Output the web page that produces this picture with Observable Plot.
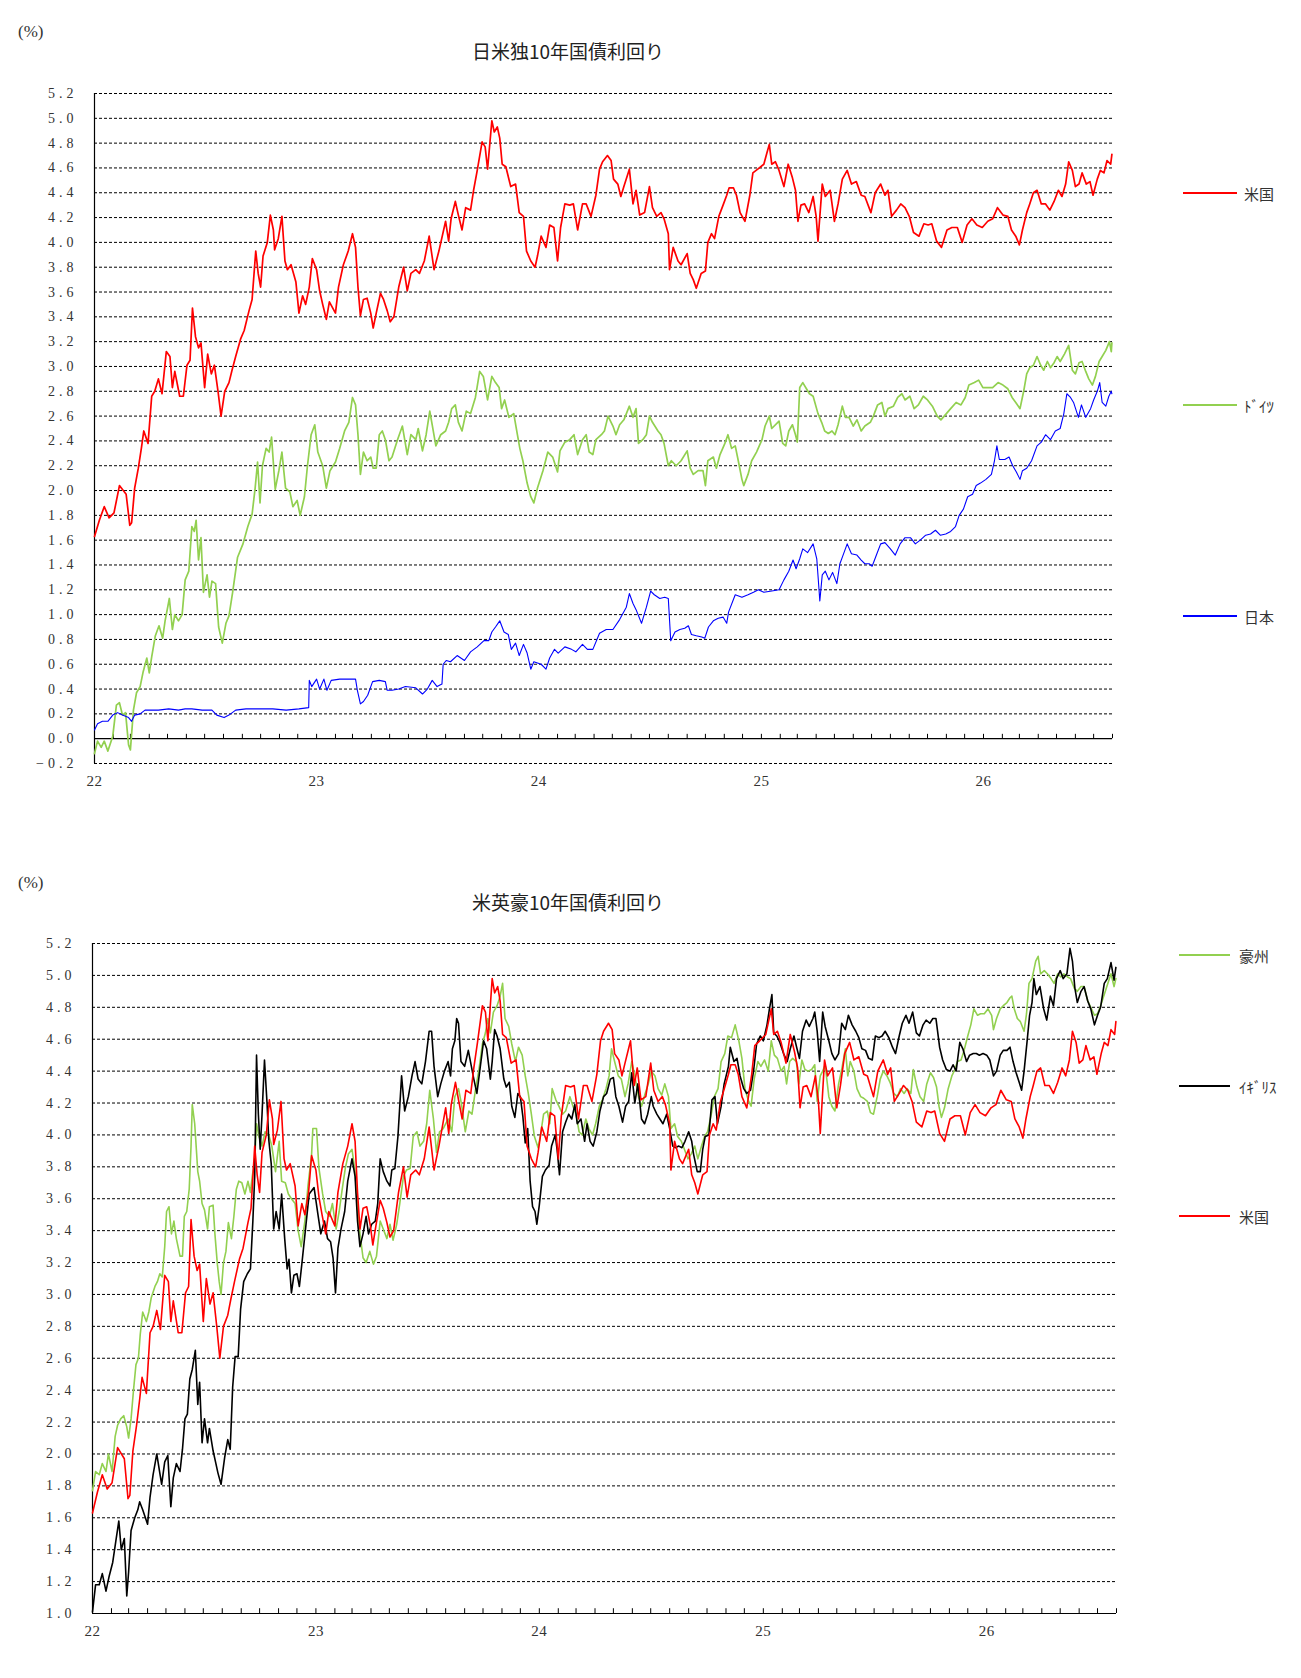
<!DOCTYPE html>
<html><head><meta charset="utf-8">
<script src="https://cdn.jsdelivr.net/npm/d3@7"></script>
<script src="https://cdn.jsdelivr.net/npm/@observablehq/plot@0.6"></script>
<style>
body{margin:0;background:#fff;}
#page{position:relative;width:1301px;height:1678px;background:#fff;font-family:"Noto Sans CJK JP",sans-serif;color:#333;overflow:hidden;}
.chart{position:absolute;left:0;}
.title{position:absolute;font-size:19px;transform:translate(-50%,-50%);white-space:nowrap;color:#222;}
.unit{position:absolute;font-family:"Liberation Serif",serif;font-size:17px;color:#333;line-height:20px;}
.legline{position:absolute;height:2px;}
.legtext{position:absolute;font-size:15px;transform:translateY(-50%);white-space:nowrap;color:#333;}
.chart g[aria-label="y-axis tick label"] text{letter-spacing:4px;font-size:14px;}
.chart g[aria-label="x-axis tick label"] text{letter-spacing:0.5px;font-size:15px;}
</style></head><body><div id="page"></div>
<script>
// ---------------- data ----------------
const usYield = [
["2022-01-01",1.63],["2022-01-09",1.76],["2022-01-17",1.87],["2022-01-25",1.78],["2022-02-02",1.82],["2022-02-11",2.04],["2022-02-22",1.97],["2022-02-28",1.72],["2022-03-03",1.74],["2022-03-08",2.02],["2022-03-14",2.18],["2022-03-19",2.34],["2022-03-23",2.48],["2022-03-30",2.38],["2022-04-05",2.76],["2022-04-10",2.80],["2022-04-16",2.90],["2022-04-22",2.78],["2022-04-29",3.12],["2022-05-05",3.08],["2022-05-09",2.83],["2022-05-13",2.96],["2022-05-21",2.76],["2022-05-27",2.76],["2022-06-02",3.01],["2022-06-07",3.05],["2022-06-11",3.47],["2022-06-16",3.24],["2022-06-21",3.15],["2022-06-25",3.19],["2022-07-01",2.83],["2022-07-06",3.10],["2022-07-12",2.94],["2022-07-17",3.01],["2022-07-23",2.80],["2022-07-28",2.60],["2022-08-03",2.80],["2022-08-10",2.87],["2022-08-15",2.97],["2022-08-21",3.08],["2022-08-29",3.22],["2022-09-04",3.29],["2022-09-12",3.45],["2022-09-17",3.54],["2022-09-23",3.93],["2022-09-27",3.75],["2022-10-01",3.64],["2022-10-05",3.89],["2022-10-12",4.00],["2022-10-17",4.22],["2022-10-22",4.10],["2022-10-24",3.94],["2022-10-30",4.03],["2022-11-05",4.21],["2022-11-10",3.85],["2022-11-14",3.78],["2022-11-20",3.82],["2022-11-28",3.68],["2022-12-03",3.43],["2022-12-09",3.57],["2022-12-14",3.50],["2022-12-20",3.64],["2022-12-25",3.87],
["2023-01-01",3.78],["2023-01-06",3.61],["2023-01-11",3.50],["2023-01-17",3.38],["2023-01-22",3.52],["2023-02-01",3.43],["2023-02-06",3.64],["2023-02-14",3.82],["2023-02-22",3.93],["2023-03-01",4.07],["2023-03-06",3.96],["2023-03-10",3.64],["2023-03-14",3.41],["2023-03-19",3.54],["2023-03-25",3.55],["2023-03-31",3.43],["2023-04-04",3.31],["2023-04-09",3.43],["2023-04-16",3.59],["2023-04-21",3.54],["2023-04-27",3.45],["2023-05-02",3.36],["2023-05-08",3.40],["2023-05-16",3.64],["2023-05-24",3.80],["2023-05-30",3.61],["2023-06-05",3.75],["2023-06-13",3.78],["2023-06-19",3.75],["2023-06-27",3.85],["2023-07-05",4.05],["2023-07-13",3.78],["2023-07-21",3.93],["2023-08-01",4.17],["2023-08-06",4.01],["2023-08-10",4.19],["2023-08-17",4.33],["2023-08-22",4.22],["2023-08-28",4.10],["2023-09-03",4.28],["2023-09-11",4.26],["2023-09-16",4.42],["2023-09-22",4.58],["2023-09-30",4.81],["2023-10-05",4.77],["2023-10-09",4.59],["2023-10-16",4.98],["2023-10-20",4.89],["2023-10-25",4.93],["2023-10-29",4.84],["2023-11-02",4.63],["2023-11-08",4.61],["2023-11-16",4.45],["2023-11-24",4.47],["2023-11-30",4.24],["2023-12-07",4.21],["2023-12-12",3.93],["2023-12-19",3.85],["2023-12-26",3.80],["2023-12-30",3.89],
["2024-01-05",4.05],["2024-01-13",3.96],["2024-01-19",4.14],["2024-01-26",4.12],["2024-02-01",3.85],["2024-02-06",4.12],["2024-02-13",4.31],["2024-02-21",4.30],["2024-02-27",4.31],["2024-03-05",4.10],["2024-03-13",4.31],["2024-03-19",4.31],["2024-03-27",4.21],["2024-04-04",4.38],["2024-04-10",4.59],["2024-04-15",4.65],["2024-04-23",4.70],["2024-04-29",4.66],["2024-05-03",4.51],["2024-05-10",4.47],["2024-05-15",4.37],["2024-05-20",4.45],["2024-05-29",4.59],["2024-06-04",4.31],["2024-06-09",4.42],["2024-06-15",4.22],["2024-06-23",4.24],["2024-07-01",4.45],["2024-07-06",4.28],["2024-07-13",4.21],["2024-07-20",4.24],["2024-07-25",4.19],["2024-08-01",4.07],["2024-08-03",3.78],["2024-08-09",3.96],["2024-08-17",3.85],["2024-08-22",3.82],["2024-09-01",3.91],["2024-09-06",3.75],["2024-09-11",3.70],["2024-09-16",3.63],["2024-09-24",3.75],["2024-10-01",3.77],["2024-10-05",4.00],["2024-10-11",4.07],["2024-10-16",4.03],["2024-10-23",4.21],["2024-10-30",4.30],["2024-11-05",4.38],["2024-11-09",4.44],["2024-11-16",4.44],["2024-11-21",4.38],["2024-11-27",4.24],["2024-12-05",4.17],["2024-12-13",4.38],["2024-12-18",4.56],["2024-12-26",4.59],
["2025-01-05",4.63],["2025-01-10",4.72],["2025-01-14",4.79],["2025-01-18",4.63],["2025-01-24",4.65],["2025-01-30",4.58],["2025-02-07",4.45],["2025-02-14",4.63],["2025-02-21",4.52],["2025-02-26",4.42],["2025-03-02",4.17],["2025-03-07",4.30],["2025-03-13",4.31],["2025-03-20",4.24],["2025-03-27",4.37],["2025-04-01",4.21],["2025-04-04",4.01],["2025-04-11",4.47],["2025-04-16",4.37],["2025-04-24",4.42],["2025-05-01",4.17],["2025-05-07",4.31],["2025-05-14",4.51],["2025-05-22",4.58],["2025-05-29",4.47],["2025-06-06",4.49],["2025-06-14",4.38],["2025-06-20",4.37],["2025-06-30",4.24],["2025-07-07",4.40],["2025-07-16",4.47],["2025-07-23",4.38],["2025-07-28",4.42],["2025-08-03",4.21],["2025-08-11",4.26],["2025-08-18",4.31],["2025-08-25",4.28],["2025-09-01",4.21],["2025-09-08",4.08],["2025-09-17",4.05],["2025-09-25",4.15],["2025-10-02",4.14],["2025-10-08",4.15],["2025-10-16",4.01],["2025-10-24",3.96],["2025-11-02",4.10],["2025-11-10",4.12],["2025-11-19",4.12],["2025-11-27",4.00],["2025-12-05",4.14],["2025-12-13",4.19],["2025-12-21",4.14],["2025-12-30",4.12],
["2026-01-08",4.17],["2026-01-16",4.19],["2026-01-24",4.28],["2026-02-02",4.22],["2026-02-10",4.21],["2026-02-16",4.10],["2026-02-23",4.05],["2026-03-01",3.98],["2026-03-06",4.10],["2026-03-13",4.24],["2026-03-18",4.31],["2026-03-24",4.40],["2026-03-30",4.42],["2026-04-06",4.31],["2026-04-13",4.31],["2026-04-20",4.26],["2026-04-27",4.33],["2026-05-04",4.42],["2026-05-10",4.37],["2026-05-16",4.47],["2026-05-21",4.65],["2026-05-27",4.58],["2026-06-01",4.45],["2026-06-07",4.47],["2026-06-12",4.56],["2026-06-19",4.47],["2026-06-25",4.49],["2026-06-30",4.38],["2026-07-07",4.51],["2026-07-12",4.58],["2026-07-18",4.56],["2026-07-23",4.66],["2026-07-29",4.63],["2026-07-31",4.71]
];

const deYield = [
["2022-01-01",-0.12],["2022-01-06",-0.02],["2022-01-12",-0.07],["2022-01-17",-0.02],["2022-01-23",-0.10],["2022-01-31",0.02],["2022-02-06",0.27],["2022-02-11",0.29],["2022-02-16",0.19],["2022-02-21",0.21],["2022-02-26",-0.05],["2022-03-01",-0.09],["2022-03-06",0.23],["2022-03-11",0.37],["2022-03-17",0.42],["2022-03-22",0.54],["2022-03-28",0.65],["2022-04-01",0.53],["2022-04-05",0.66],["2022-04-11",0.83],["2022-04-17",0.91],["2022-04-23",0.81],["2022-04-27",0.95],["2022-05-04",1.13],["2022-05-09",0.88],["2022-05-13",1.00],["2022-05-19",0.95],["2022-05-25",1.00],["2022-05-30",1.28],["2022-06-05",1.35],["2022-06-10",1.71],["2022-06-14",1.67],["2022-06-17",1.76],["2022-06-21",1.44],["2022-06-25",1.62],["2022-06-29",1.18],["2022-07-05",1.32],["2022-07-09",1.14],["2022-07-13",1.27],["2022-07-19",1.25],["2022-07-24",0.90],["2022-07-30",0.77],["2022-08-05",0.93],["2022-08-10",0.99],["2022-08-16",1.18],["2022-08-24",1.46],["2022-09-02",1.57],["2022-09-10",1.71],["2022-09-17",1.81],["2022-09-22",2.02],["2022-09-26",2.23],["2022-09-30",1.90],["2022-10-04",2.20],["2022-10-10",2.34],["2022-10-15",2.31],["2022-10-19",2.43],["2022-10-25",2.01],["2022-10-31",2.16],["2022-11-05",2.31],["2022-11-11",2.02],["2022-11-18",1.99],["2022-11-23",1.87],["2022-11-30",1.92],["2022-12-05",1.80],["2022-12-12",1.95],["2022-12-17",2.20],["2022-12-23",2.45],["2022-12-29",2.53],
["2023-01-03",2.31],["2023-01-11",2.20],["2023-01-17",2.02],["2023-01-23",2.16],["2023-02-01",2.23],["2023-02-08",2.34],["2023-02-16",2.48],["2023-02-23",2.55],["2023-03-01",2.75],["2023-03-06",2.69],["2023-03-10",2.45],["2023-03-14",2.13],["2023-03-19",2.31],["2023-03-25",2.24],["2023-03-31",2.27],["2023-04-04",2.18],["2023-04-09",2.18],["2023-04-14",2.45],["2023-04-19",2.48],["2023-04-24",2.41],["2023-04-30",2.24],["2023-05-05",2.27],["2023-05-14",2.41],["2023-05-22",2.52],["2023-05-30",2.29],["2023-06-05",2.45],["2023-06-13",2.41],["2023-06-17",2.50],["2023-06-24",2.32],["2023-06-30",2.45],["2023-07-06",2.64],["2023-07-10",2.53],["2023-07-16",2.36],["2023-07-24",2.45],["2023-08-01",2.48],["2023-08-06",2.55],["2023-08-11",2.66],["2023-08-17",2.69],["2023-08-22",2.55],["2023-08-28",2.48],["2023-09-04",2.64],["2023-09-11",2.62],["2023-09-19",2.75],["2023-09-26",2.96],["2023-10-02",2.92],["2023-10-09",2.73],["2023-10-16",2.92],["2023-10-22",2.87],["2023-10-28",2.83],["2023-11-01",2.66],["2023-11-06",2.73],["2023-11-13",2.59],["2023-11-21",2.62],["2023-11-27",2.45],["2023-12-01",2.34],["2023-12-06",2.24],["2023-12-13",2.06],["2023-12-19",1.95],["2023-12-24",1.90],["2023-12-30",2.02],
["2024-01-08",2.16],["2024-01-16",2.31],["2024-01-24",2.27],["2024-02-01",2.15],["2024-02-05",2.32],["2024-02-13",2.39],["2024-02-21",2.41],["2024-02-28",2.45],["2024-03-05",2.29],["2024-03-13",2.41],["2024-03-19",2.45],["2024-03-24",2.31],["2024-03-30",2.29],["2024-04-04",2.41],["2024-04-13",2.45],["2024-04-18",2.48],["2024-04-24",2.60],["2024-05-02",2.52],["2024-05-07",2.45],["2024-05-13",2.53],["2024-05-20",2.57],["2024-05-29",2.68],["2024-06-04",2.59],["2024-06-09",2.66],["2024-06-13",2.38],["2024-06-20",2.41],["2024-06-26",2.45],["2024-07-01",2.60],["2024-07-06",2.55],["2024-07-15",2.48],["2024-07-20",2.45],["2024-07-25",2.38],["2024-08-01",2.20],["2024-08-06",2.24],["2024-08-14",2.20],["2024-08-22",2.24],["2024-09-01",2.32],["2024-09-06",2.18],["2024-09-11",2.13],["2024-09-19",2.16],["2024-09-27",2.16],["2024-10-01",2.04],["2024-10-05",2.24],["2024-10-14",2.27],["2024-10-19",2.18],["2024-10-25",2.29],["2024-11-02",2.38],["2024-11-07",2.45],["2024-11-13",2.34],["2024-11-19",2.36],["2024-11-24",2.24],["2024-11-30",2.09],["2024-12-03",2.04],["2024-12-10",2.13],["2024-12-16",2.24],["2024-12-24",2.31],
["2025-01-02",2.41],["2025-01-07",2.52],["2025-01-14",2.60],["2025-01-18",2.50],["2025-01-30",2.56],["2025-02-05",2.38],["2025-02-10",2.36],["2025-02-15",2.48],["2025-02-21",2.53],["2025-02-26",2.45],["2025-03-01",2.39],["2025-03-05",2.83],["2025-03-10",2.87],["2025-03-16",2.82],["2025-03-21",2.78],["2025-03-27",2.76],["2025-04-04",2.62],["2025-04-10",2.55],["2025-04-15",2.48],["2025-04-21",2.46],["2025-04-27",2.48],["2025-05-02",2.45],["2025-05-07",2.53],["2025-05-14",2.68],["2025-05-19",2.59],["2025-05-25",2.59],["2025-06-01",2.52],["2025-06-07",2.57],["2025-06-14",2.48],["2025-06-20",2.52],["2025-06-29",2.55],["2025-07-04",2.60],["2025-07-11",2.69],["2025-07-18",2.71],["2025-07-23",2.60],["2025-07-28",2.66],["2025-08-06",2.68],["2025-08-13",2.75],["2025-08-20",2.78],["2025-08-25",2.73],["2025-09-02",2.76],["2025-09-09",2.66],["2025-09-16",2.69],["2025-09-24",2.76],["2025-10-01",2.73],["2025-10-09",2.68],["2025-10-17",2.60],["2025-10-23",2.57],["2025-11-01",2.62],["2025-11-08",2.66],["2025-11-17",2.71],["2025-11-25",2.69],["2025-12-02",2.75],["2025-12-08",2.85],["2025-12-17",2.87],["2025-12-24",2.89],["2025-12-31",2.83],
["2026-01-08",2.83],["2026-01-16",2.83],["2026-01-25",2.87],["2026-02-02",2.85],["2026-02-10",2.82],["2026-02-17",2.75],["2026-02-23",2.71],["2026-03-02",2.66],["2026-03-08",2.80],["2026-03-13",2.94],["2026-03-18",2.99],["2026-03-24",3.01],["2026-03-30",3.08],["2026-04-05",3.01],["2026-04-10",2.97],["2026-04-16",3.04],["2026-04-21",2.99],["2026-04-27",3.03],["2026-05-02",3.08],["2026-05-07",3.04],["2026-05-14",3.10],["2026-05-21",3.17],["2026-05-27",2.97],["2026-06-01",2.94],["2026-06-07",3.03],["2026-06-12",3.04],["2026-06-18",2.96],["2026-06-23",2.90],["2026-06-29",2.85],["2026-07-04",2.92],["2026-07-10",3.04],["2026-07-15",3.08],["2026-07-21",3.13],["2026-07-27",3.20],["2026-07-30",3.12],["2026-07-31",3.19]
];

const jpYield = [
["2022-01-01",0.07],["2022-01-06",0.12],["2022-01-14",0.14],["2022-01-23",0.14],["2022-01-31",0.19],["2022-02-08",0.21],["2022-02-16",0.19],["2022-02-26",0.17],["2022-03-03",0.14],["2022-03-08",0.19],["2022-03-17",0.20],["2022-03-25",0.23],["2022-04-05",0.23],["2022-04-16",0.23],["2022-05-03",0.24],["2022-05-19",0.23],["2022-05-30",0.24],["2022-06-10",0.24],["2022-06-27",0.23],["2022-07-13",0.23],["2022-07-21",0.19],["2022-08-02",0.17],["2022-08-10",0.19],["2022-08-21",0.23],["2022-09-07",0.24],["2022-09-29",0.24],["2022-10-21",0.24],["2022-11-12",0.23],["2022-12-03",0.24],["2022-12-19",0.25],["2022-12-20",0.47],["2022-12-24",0.42],
["2023-01-01",0.48],["2023-01-06",0.40],["2023-01-13",0.48],["2023-01-18",0.39],["2023-01-25",0.47],["2023-02-08",0.48],["2023-03-06",0.48],["2023-03-09",0.39],["2023-03-14",0.28],["2023-03-19",0.30],["2023-03-26",0.35],["2023-04-03",0.46],["2023-04-14",0.47],["2023-04-24",0.46],["2023-04-27",0.39],["2023-05-05",0.39],["2023-05-16",0.40],["2023-05-27",0.42],["2023-06-13",0.41],["2023-06-24",0.36],["2023-07-02",0.40],["2023-07-10",0.47],["2023-07-18",0.42],["2023-07-26",0.44],["2023-07-28",0.60],["2023-08-02",0.63],["2023-08-09",0.62],["2023-08-20",0.67],["2023-09-01",0.63],["2023-09-11",0.70],["2023-09-22",0.74],["2023-10-03",0.79],["2023-10-11",0.79],["2023-10-16",0.86],["2023-10-22",0.90],["2023-10-29",0.95],["2023-11-05",0.86],["2023-11-12",0.84],["2023-11-17",0.72],["2023-11-24",0.77],["2023-11-30",0.67],["2023-12-07",0.76],["2023-12-13",0.69],["2023-12-19",0.56],["2023-12-24",0.62],
["2024-01-05",0.60],["2024-01-13",0.56],["2024-01-19",0.65],["2024-01-27",0.72],["2024-02-02",0.69],["2024-02-13",0.74],["2024-02-24",0.72],["2024-03-02",0.70],["2024-03-13",0.76],["2024-03-21",0.72],["2024-03-30",0.72],["2024-04-10",0.85],["2024-04-21",0.88],["2024-05-02",0.88],["2024-05-13",0.96],["2024-05-24",1.06],["2024-05-29",1.17],["2024-06-04",1.09],["2024-06-09",1.04],["2024-06-18",0.93],["2024-06-26",1.06],["2024-07-03",1.19],["2024-07-09",1.16],["2024-07-18",1.13],["2024-07-26",1.14],["2024-08-01",1.13],["2024-08-05",0.79],["2024-08-12",0.86],["2024-08-20",0.88],["2024-08-28",0.89],["2024-09-03",0.91],["2024-09-08",0.84],["2024-09-16",0.83],["2024-09-25",0.82],["2024-09-30",0.81],["2024-10-06",0.90],["2024-10-14",0.95],["2024-10-22",0.97],["2024-10-30",0.98],["2024-11-05",0.93],["2024-11-08",1.02],["2024-11-19",1.16],["2024-11-30",1.14],["2024-12-10",1.16],["2024-12-19",1.18],["2024-12-27",1.20],
["2025-01-05",1.18],["2025-01-18",1.19],["2025-01-30",1.20],["2025-02-07",1.28],["2025-02-15",1.35],["2025-02-22",1.44],["2025-02-27",1.37],["2025-03-05",1.45],["2025-03-10",1.53],["2025-03-18",1.50],["2025-03-27",1.57],["2025-04-02",1.45],["2025-04-06",1.18],["2025-04-07",1.11],["2025-04-11",1.32],["2025-04-16",1.35],["2025-04-22",1.28],["2025-04-28",1.34],["2025-05-05",1.25],["2025-05-10",1.41],["2025-05-16",1.49],["2025-05-22",1.57],["2025-05-29",1.49],["2025-06-07",1.48],["2025-06-14",1.44],["2025-06-20",1.41],["2025-06-27",1.41],["2025-07-02",1.39],["2025-07-09",1.48],["2025-07-16",1.57],["2025-07-23",1.58],["2025-08-01",1.53],["2025-08-09",1.48],["2025-08-17",1.57],["2025-08-25",1.62],["2025-09-03",1.62],["2025-09-11",1.57],["2025-09-19",1.60],["2025-09-28",1.64],["2025-10-06",1.65],["2025-10-14",1.68],["2025-10-22",1.64],["2025-10-31",1.65],["2025-11-08",1.67],["2025-11-16",1.71],["2025-11-22",1.80],["2025-11-29",1.85],["2025-12-06",1.95],["2025-12-14",1.97],["2025-12-20",2.04],["2025-12-27",2.06],
["2026-01-05",2.09],["2026-01-14",2.13],["2026-01-19",2.24],["2026-01-23",2.36],["2026-01-27",2.25],["2026-02-05",2.25],["2026-02-12",2.27],["2026-02-18",2.20],["2026-02-24",2.15],["2026-03-02",2.09],["2026-03-06",2.16],["2026-03-13",2.18],["2026-03-21",2.24],["2026-03-30",2.36],["2026-04-06",2.39],["2026-04-13",2.45],["2026-04-21",2.41],["2026-04-29",2.48],["2026-05-07",2.50],["2026-05-13",2.62],["2026-05-18",2.78],["2026-05-24",2.75],["2026-05-29",2.71],["2026-06-06",2.59],["2026-06-11",2.69],["2026-06-18",2.59],["2026-06-26",2.66],["2026-07-01",2.73],["2026-07-07",2.80],["2026-07-11",2.87],["2026-07-15",2.71],["2026-07-21",2.68],["2026-07-26",2.76],["2026-07-30",2.80],["2026-07-31",2.78]
];

const ukYield = [
["2022-01-01",1.01],["2022-01-06",1.18],["2022-01-12",1.18],["2022-01-17",1.25],["2022-01-23",1.14],["2022-01-28",1.23],["2022-02-03",1.32],["2022-02-08",1.45],["2022-02-13",1.58],["2022-02-17",1.40],["2022-02-22",1.47],["2022-02-26",1.11],["2022-03-01",1.26],["2022-03-05",1.52],["2022-03-11",1.60],["2022-03-16",1.65],["2022-03-19",1.70],["2022-03-24",1.65],["2022-04-01",1.56],["2022-04-05",1.73],["2022-04-10",1.87],["2022-04-16",2.00],["2022-04-21",1.88],["2022-04-24",1.81],["2022-04-29",1.95],["2022-05-04",1.99],["2022-05-09",1.67],["2022-05-13",1.85],["2022-05-18",1.94],["2022-05-24",1.89],["2022-05-28",2.03],["2022-06-01",2.22],["2022-06-05",2.25],["2022-06-09",2.47],["2022-06-13",2.53],["2022-06-18",2.65],["2022-06-22",2.31],["2022-06-25",2.45],["2022-06-29",2.07],["2022-07-03",2.22],["2022-07-08",2.07],["2022-07-11",2.16],["2022-07-17",2.02],["2022-07-21",1.95],["2022-07-25",1.88],["2022-07-30",1.81],["2022-08-05",1.98],["2022-08-10",2.09],["2022-08-14",2.03],["2022-08-18",2.42],["2022-08-22",2.61],["2022-08-27",2.61],["2022-08-31",2.91],["2022-09-05",3.08],["2022-09-11",3.13],["2022-09-16",3.16],["2022-09-20",3.46],["2022-09-23",3.74],["2022-09-26",4.50],["2022-09-29",4.13],["2022-10-02",3.91],["2022-10-05",4.13],["2022-10-09",4.47],["2022-10-13",4.21],["2022-10-16",3.97],["2022-10-20",3.82],["2022-10-24",3.41],["2022-10-28",3.52],["2022-11-02",3.41],["2022-11-06",3.63],["2022-11-11",3.35],["2022-11-15",3.16],["2022-11-18",3.22],["2022-11-22",3.01],["2022-11-26",3.12],["2022-12-01",3.13],["2022-12-05",3.05],["2022-12-09",3.19],["2022-12-15",3.41],["2022-12-21",3.63],["2022-12-29",3.67],
["2023-01-04",3.51],["2023-01-09",3.38],["2023-01-15",3.46],["2023-01-20",3.35],["2023-01-25",3.33],["2023-01-29",3.23],["2023-02-02",3.01],["2023-02-06",3.29],["2023-02-11",3.41],["2023-02-17",3.52],["2023-02-22",3.71],["2023-03-01",3.85],["2023-03-06",3.74],["2023-03-10",3.46],["2023-03-14",3.30],["2023-03-19",3.38],["2023-03-24",3.49],["2023-03-28",3.38],["2023-04-02",3.44],["2023-04-08",3.46],["2023-04-12",3.57],["2023-04-16",3.85],["2023-04-21",3.77],["2023-04-27",3.71],["2023-05-02",3.68],["2023-05-05",3.78],["2023-05-10",3.79],["2023-05-15",3.99],["2023-05-21",4.37],["2023-05-26",4.15],["2023-06-01",4.24],["2023-06-07",4.37],["2023-06-12",4.46],["2023-06-17",4.35],["2023-06-23",4.32],["2023-06-29",4.46],["2023-07-05",4.65],["2023-07-09",4.65],["2023-07-13",4.43],["2023-07-19",4.24],["2023-07-24",4.32],["2023-07-30",4.40],["2023-08-05",4.46],["2023-08-09",4.37],["2023-08-12",4.54],["2023-08-16",4.59],["2023-08-19",4.73],["2023-08-22",4.70],["2023-08-26",4.46],["2023-09-01",4.43],["2023-09-07",4.53],["2023-09-12",4.43],["2023-09-16",4.35],["2023-09-21",4.26],["2023-09-27",4.44],["2023-10-02",4.59],["2023-10-07",4.54],["2023-10-13",4.35],["2023-10-16",4.46],["2023-10-20",4.66],["2023-10-24",4.62],["2023-10-29",4.54],["2023-11-04",4.35],["2023-11-08",4.30],["2023-11-13",4.33],["2023-11-17",4.18],["2023-11-22",4.11],["2023-11-27",4.26],["2023-12-01",4.24],["2023-12-05",4.12],["2023-12-09",3.95],["2023-12-13",4.04],["2023-12-17",3.71],["2023-12-21",3.55],["2023-12-25",3.52],["2023-12-28",3.44],
["2024-01-01",3.56],["2024-01-06",3.74],["2024-01-11",3.78],["2024-01-17",3.81],["2024-01-21",3.93],["2024-01-27",4.00],["2024-01-30",3.91],["2024-02-03",3.75],["2024-02-08",4.02],["2024-02-13",4.08],["2024-02-18",4.13],["2024-02-23",4.10],["2024-02-28",4.19],["2024-03-03",4.07],["2024-03-09",4.10],["2024-03-15",3.96],["2024-03-19",4.07],["2024-03-24",3.96],["2024-03-29",3.93],["2024-04-04",4.02],["2024-04-09",4.15],["2024-04-15",4.24],["2024-04-20",4.26],["2024-04-26",4.35],["2024-05-01",4.36],["2024-05-05",4.24],["2024-05-10",4.18],["2024-05-16",4.08],["2024-05-21",4.18],["2024-05-26",4.21],["2024-05-31",4.39],["2024-06-05",4.20],["2024-06-10",4.32],["2024-06-16",4.10],["2024-06-21",4.07],["2024-06-26",4.13],["2024-07-02",4.24],["2024-07-05",4.18],["2024-07-11",4.13],["2024-07-16",4.10],["2024-07-21",4.07],["2024-07-27",4.13],["2024-08-01",4.04],["2024-08-06",3.93],["2024-08-10",3.92],["2024-08-16",3.93],["2024-08-21",3.92],["2024-08-26",3.96],["2024-09-01",4.02],["2024-09-06",3.96],["2024-09-09",3.88],["2024-09-15",3.77],["2024-09-20",3.77],["2024-09-24",3.91],["2024-09-28",3.99],["2024-10-04",4.00],["2024-10-09",4.22],["2024-10-14",4.24],["2024-10-18",4.07],["2024-10-24",4.18],["2024-10-29",4.32],["2024-11-05",4.43],["2024-11-08",4.55],["2024-11-14",4.46],["2024-11-19",4.48],["2024-11-24",4.37],["2024-11-30",4.29],["2024-12-05",4.26],["2024-12-11",4.28],["2024-12-16",4.40],["2024-12-21",4.57],["2024-12-27",4.62],
["2025-01-01",4.59],["2025-01-07",4.69],["2025-01-11",4.79],["2025-01-15",4.88],["2025-01-18",4.64],["2025-01-23",4.62],["2025-01-28",4.58],["2025-02-03",4.51],["2025-02-09",4.46],["2025-02-14",4.54],["2025-02-20",4.62],["2025-02-25",4.54],["2025-03-01",4.48],["2025-03-06",4.65],["2025-03-12",4.72],["2025-03-17",4.68],["2025-03-23",4.73],["2025-03-26",4.77],["2025-03-30",4.65],["2025-04-03",4.46],["2025-04-08",4.77],["2025-04-12",4.68],["2025-04-18",4.59],["2025-04-23",4.51],["2025-04-28",4.47],["2025-05-04",4.51],["2025-05-09",4.70],["2025-05-15",4.66],["2025-05-20",4.75],["2025-05-26",4.69],["2025-06-01",4.65],["2025-06-06",4.61],["2025-06-11",4.54],["2025-06-17",4.53],["2025-06-22",4.48],["2025-06-28",4.47],["2025-07-03",4.62],["2025-07-09",4.61],["2025-07-14",4.62],["2025-07-19",4.65],["2025-07-25",4.61],["2025-07-31",4.55],["2025-08-05",4.51],["2025-08-11",4.62],["2025-08-16",4.70],["2025-08-22",4.75],["2025-08-27",4.70],["2025-09-02",4.77],["2025-09-08",4.64],["2025-09-13",4.62],["2025-09-19",4.69],["2025-09-24",4.72],["2025-09-30",4.70],["2025-10-05",4.73],["2025-10-10",4.73],["2025-10-16",4.55],["2025-10-21",4.47],["2025-10-27",4.41],["2025-11-02",4.40],["2025-11-07",4.44],["2025-11-12",4.40],["2025-11-18",4.58],["2025-11-23",4.54],["2025-11-29",4.46],["2025-12-04",4.50],["2025-12-10",4.51],["2025-12-15",4.51],["2025-12-20",4.50],["2025-12-26",4.51],
["2026-01-01",4.50],["2026-01-06",4.47],["2026-01-12",4.37],["2026-01-17",4.40],["2026-01-23",4.50],["2026-01-28",4.53],["2026-02-03",4.53],["2026-02-08",4.55],["2026-02-13",4.46],["2026-02-18",4.39],["2026-02-23",4.33],["2026-02-27",4.28],["2026-03-03",4.40],["2026-03-08",4.59],["2026-03-12",4.75],["2026-03-16",4.83],["2026-03-19",4.98],["2026-03-23",4.88],["2026-03-29",4.93],["2026-04-04",4.79],["2026-04-09",4.72],["2026-04-15",4.87],["2026-04-20",4.81],["2026-04-25",4.98],["2026-05-01",5.03],["2026-05-06",4.98],["2026-05-12",5.01],["2026-05-17",5.17],["2026-05-21",5.09],["2026-05-25",4.92],["2026-05-29",4.83],["2026-06-04",4.90],["2026-06-09",4.93],["2026-06-15",4.84],["2026-06-20",4.79],["2026-06-26",4.69],["2026-07-01",4.75],["2026-07-06",4.80],["2026-07-12",4.95],["2026-07-17",4.98],["2026-07-23",5.08],["2026-07-28",4.97],["2026-07-31",5.05]
];

const auYield = [
["2022-01-01",1.77],["2022-01-06",1.89],["2022-01-12",1.87],["2022-01-17",1.94],["2022-01-23",1.89],["2022-01-27",2.00],["2022-02-02",1.89],["2022-02-07",2.11],["2022-02-11",2.18],["2022-02-16",2.22],["2022-02-21",2.24],["2022-02-26",2.17],["2022-03-01",2.10],["2022-03-05",2.22],["2022-03-09",2.40],["2022-03-13",2.56],["2022-03-17",2.60],["2022-03-20",2.75],["2022-03-24",2.89],["2022-03-30",2.83],["2022-04-03",2.89],["2022-04-07",2.98],["2022-04-13",3.05],["2022-04-17",3.08],["2022-04-21",3.13],["2022-04-25",3.11],["2022-04-29",3.30],["2022-05-02",3.52],["2022-05-06",3.55],["2022-05-10",3.38],["2022-05-14",3.46],["2022-05-18",3.35],["2022-05-24",3.24],["2022-05-28",3.24],["2022-05-31",3.49],["2022-06-04",3.52],["2022-06-08",3.66],["2022-06-11",3.93],["2022-06-13",4.19],["2022-06-17",4.07],["2022-06-22",3.77],["2022-06-25",3.71],["2022-06-29",3.57],["2022-07-03",3.53],["2022-07-08",3.41],["2022-07-11",3.55],["2022-07-17",3.56],["2022-07-20",3.38],["2022-07-24",3.19],["2022-07-27",3.08],["2022-07-30",3.00],["2022-08-03",3.20],["2022-08-07",3.27],["2022-08-11",3.45],["2022-08-16",3.35],["2022-08-20",3.49],["2022-08-24",3.66],["2022-08-28",3.71],["2022-09-02",3.70],["2022-09-07",3.63],["2022-09-12",3.71],["2022-09-16",3.64],["2022-09-19",3.74],["2022-09-23",3.84],["2022-09-26",4.07],["2022-09-30",3.99],["2022-10-05",3.93],["2022-10-10",4.02],["2022-10-16",4.00],["2022-10-21",3.93],["2022-10-27",3.77],["2022-11-02",3.96],["2022-11-06",3.71],["2022-11-12",3.70],["2022-11-17",3.63],["2022-11-22",3.60],["2022-11-28",3.57],["2022-12-03",3.40],["2022-12-08",3.30],["2022-12-14",3.46],["2022-12-19",3.68],["2022-12-25",3.88],["2022-12-27",4.04],
["2023-01-02",4.04],["2023-01-06",3.79],["2023-01-12",3.63],["2023-01-17",3.52],["2023-01-23",3.49],["2023-01-28",3.57],["2023-02-03",3.41],["2023-02-08",3.52],["2023-02-13",3.66],["2023-02-18",3.79],["2023-02-23",3.88],["2023-03-01",3.91],["2023-03-06",3.77],["2023-03-10",3.55],["2023-03-14",3.38],["2023-03-19",3.23],["2023-03-24",3.20],["2023-03-30",3.27],["2023-04-05",3.19],["2023-04-10",3.24],["2023-04-16",3.46],["2023-04-21",3.41],["2023-04-27",3.35],["2023-05-02",3.44],["2023-05-07",3.34],["2023-05-13",3.44],["2023-05-18",3.57],["2023-05-24",3.74],["2023-05-29",3.78],["2023-06-04",3.79],["2023-06-09",3.99],["2023-06-15",4.02],["2023-06-20",3.93],["2023-06-26",3.96],["2023-07-01",4.07],["2023-07-06",4.28],["2023-07-12",4.10],["2023-07-17",3.89],["2023-07-22",4.02],["2023-07-28",4.04],["2023-08-05",4.10],["2023-08-11",4.02],["2023-08-16",4.24],["2023-08-22",4.29],["2023-08-27",4.19],["2023-09-02",4.02],["2023-09-08",4.15],["2023-09-13",4.13],["2023-09-19",4.29],["2023-09-24",4.40],["2023-09-30",4.57],["2023-10-05",4.64],["2023-10-09",4.73],["2023-10-13",4.64],["2023-10-18",4.77],["2023-10-24",4.81],["2023-10-29",4.87],["2023-11-02",4.95],["2023-11-06",4.73],["2023-11-12",4.68],["2023-11-17",4.57],["2023-11-23",4.46],["2023-11-28",4.55],["2023-12-04",4.50],["2023-12-09",4.37],["2023-12-14",4.26],["2023-12-19",4.13],["2023-12-24",3.99],["2023-12-30",3.92],
["2024-01-03",4.00],["2024-01-08",4.13],["2024-01-14",4.15],["2024-01-18",4.07],["2024-01-22",4.29],["2024-01-28",4.22],["2024-02-02",4.18],["2024-02-08",4.13],["2024-02-13",4.15],["2024-02-20",4.24],["2024-02-25",4.18],["2024-03-01",4.13],["2024-03-06",4.02],["2024-03-11",4.00],["2024-03-17",4.10],["2024-03-22",4.04],["2024-03-28",4.00],["2024-04-02",4.07],["2024-04-08",4.18],["2024-04-13",4.22],["2024-04-19",4.29],["2024-04-24",4.37],["2024-04-28",4.54],["2024-05-03",4.46],["2024-05-09",4.37],["2024-05-14",4.35],["2024-05-20",4.24],["2024-05-25",4.32],["2024-05-31",4.46],["2024-06-05",4.37],["2024-06-11",4.24],["2024-06-16",4.18],["2024-06-22",4.26],["2024-06-27",4.32],["2024-07-02",4.40],["2024-07-08",4.37],["2024-07-13",4.29],["2024-07-19",4.25],["2024-07-24",4.32],["2024-07-30",4.24],["2024-08-03",4.04],["2024-08-09",4.07],["2024-08-14",3.99],["2024-08-20",3.96],["2024-08-25",3.91],["2024-08-31",3.85],["2024-09-05",3.88],["2024-09-11",3.93],["2024-09-16",3.85],["2024-09-22",3.93],["2024-09-27",3.99],["2024-10-02",4.02],["2024-10-08",4.13],["2024-10-13",4.24],["2024-10-19",4.29],["2024-10-24",4.46],["2024-10-30",4.51],["2024-11-04",4.62],["2024-11-10",4.61],["2024-11-16",4.69],["2024-11-22",4.59],["2024-11-27",4.48],["2024-12-02",4.29],["2024-12-08",4.21],["2024-12-12",4.18],["2024-12-17",4.35],["2024-12-23",4.46],["2024-12-28",4.43],
["2025-01-03",4.47],["2025-01-09",4.40],["2025-01-14",4.59],["2025-01-19",4.50],["2025-01-24",4.48],["2025-01-30",4.40],["2025-02-04",4.43],["2025-02-08",4.32],["2025-02-13",4.46],["2025-02-18",4.48],["2025-02-24",4.46],["2025-02-28",4.32],["2025-03-05",4.47],["2025-03-10",4.41],["2025-03-15",4.40],["2025-03-21",4.41],["2025-03-26",4.44],["2025-03-30",4.21],["2025-04-04",4.37],["2025-04-08",4.40],["2025-04-12",4.44],["2025-04-18",4.24],["2025-04-23",4.18],["2025-04-28",4.15],["2025-05-04",4.32],["2025-05-09",4.41],["2025-05-15",4.54],["2025-05-19",4.37],["2025-05-23",4.46],["2025-05-29",4.40],["2025-06-03",4.29],["2025-06-09",4.24],["2025-06-14",4.23],["2025-06-20",4.21],["2025-06-25",4.14],["2025-06-30",4.13],["2025-07-06",4.24],["2025-07-11",4.35],["2025-07-16",4.40],["2025-07-22",4.37],["2025-07-27",4.33],["2025-08-02",4.26],["2025-08-08",4.24],["2025-08-13",4.29],["2025-08-19",4.26],["2025-08-24",4.29],["2025-08-30",4.26],["2025-09-03",4.41],["2025-09-09",4.30],["2025-09-14",4.24],["2025-09-20",4.21],["2025-09-25",4.32],["2025-10-01",4.39],["2025-10-06",4.36],["2025-10-11",4.30],["2025-10-15",4.18],["2025-10-19",4.11],["2025-10-24",4.17],["2025-10-30",4.29],["2025-11-05",4.37],["2025-11-10",4.41],["2025-11-14",4.46],["2025-11-20",4.47],["2025-11-25",4.53],["2025-12-01",4.62],["2025-12-06",4.69],["2025-12-11",4.79],["2025-12-17",4.75],["2025-12-22",4.76],["2025-12-28",4.76],
["2026-01-03",4.79],["2026-01-09",4.75],["2026-01-12",4.66],["2026-01-17",4.73],["2026-01-23",4.79],["2026-01-28",4.81],["2026-02-03",4.83],["2026-02-08",4.86],["2026-02-11",4.87],["2026-02-15",4.79],["2026-02-20",4.73],["2026-02-25",4.71],["2026-03-03",4.65],["2026-03-07",4.76],["2026-03-11",4.95],["2026-03-16",4.98],["2026-03-22",5.09],["2026-03-26",5.12],["2026-03-30",5.01],["2026-04-05",5.03],["2026-04-10",5.01],["2026-04-16",4.98],["2026-04-21",4.95],["2026-04-27",5.01],["2026-05-02",4.99],["2026-05-07",5.01],["2026-05-13",4.99],["2026-05-18",4.98],["2026-05-24",4.92],["2026-05-29",4.90],["2026-06-04",4.93],["2026-06-09",4.93],["2026-06-15",4.84],["2026-06-20",4.80],["2026-06-26",4.75],["2026-07-01",4.76],["2026-07-06",4.81],["2026-07-12",4.88],["2026-07-17",4.94],["2026-07-23",5.01],["2026-07-28",4.93],["2026-07-31",4.98]
];

// axis ticks and labels
const yTicksTop = [-0.2,0.0,0.2,0.4,0.6,0.8,1.0,1.2,1.4,1.6,1.8,2.0,2.2,2.4,2.6,2.8,3.0,3.2,3.4,3.6,3.8,4.0,4.2,4.4,4.6,4.8,5.0,5.2];
const yTicksBottom = [1.0,1.2,1.4,1.6,1.8,2.0,2.2,2.4,2.6,2.8,3.0,3.2,3.4,3.6,3.8,4.0,4.2,4.4,4.6,4.8,5.0,5.2];
const yearTicks = ["2022-01-01","2023-01-01","2024-01-01","2025-01-01","2026-01-01"];
const yearLabels = ["22","23","24","25","26"];
const xDomain = ["2022-01-01","2026-08-01"];

const titleTop = "日米独10年国債利回り";
const titleBottom = "米英豪10年国債利回り";
const unitLabel = "(%)";
const legendTop = [["米国","#ff0000"],["ﾄﾞｲﾂ","#92d050"],["日本","#0000ff"]];
const legendBottom = [["豪州","#92d050"],["ｲｷﾞﾘｽ","#000000"],["米国","#ff0000"]];

// ---------------- drawing ----------------
const rows = arr => arr.map(([d, v]) => ({date: new Date(d), value: v}));
const x0 = new Date(xDomain[0]), x1 = new Date(xDomain[1]);
const months = d3.utcMonth.range(x0, x1).concat([x1]);
const yearDates = yearTicks.map(s => new Date(s));
const fmtY = d => (d < 0 ? "\u2212" : "") + Math.abs(d).toFixed(1);
const fmtX = d => yearLabels[yearDates.findIndex(y => +y === +d)];
const axisStyle = {fontFamily: "'Liberation Serif', serif", fontSize: "15px", color: "#333", background: "transparent", overflow: "visible"};

function makeChart({yTicks, yMin, yMax, axisAt, series, marginLeft, marginRight, marginTop, marginBottom, tickLen}) {
  return Plot.plot({
    width: 1301, height: 800,
    marginTop, marginBottom, marginLeft, marginRight,
    x: {type: "utc", domain: [x0, x1], label: null},
    y: {domain: [yMin, yMax], label: null},
    style: axisStyle,
    marks: [
      Plot.ruleY(yTicks.filter(d => d !== axisAt), {stroke: "#000", strokeWidth: 1, strokeDasharray: "3,2"}),
      Plot.ruleY([axisAt], {stroke: "#000", strokeWidth: 1.2}),
      Plot.ruleX([x0], {y1: yMin, y2: yMax, stroke: "#000", strokeWidth: 1.2}),
      Plot.ruleX(months, {x: d => d, y1: axisAt, y2: axisAt + tickLen, stroke: "#000", strokeWidth: 1}),
      Plot.axisY({ticks: yTicks, tickSize: 0, tickPadding: 17, tickFormat: fmtY, label: null}),
      Plot.axisX({ticks: yearDates, tickSize: 0, tickPadding: 12, tickFormat: fmtX, label: null}),
      ...series.map(s => Plot.line(rows(s.data), {x: "date", y: "value", stroke: s.color, strokeWidth: s.w}))
    ]
  });
}

const page = document.getElementById("page");

const c1 = makeChart({
  yTicks: yTicksTop, yMin: -0.2, yMax: 5.2, axisAt: 0, tickLen: 0.035,
  marginTop: 93, marginBottom: 37, marginLeft: 94, marginRight: 189,
  series: [
    {data: usYield, color: "#ff0000", w: 1.7},
    {data: deYield, color: "#92d050", w: 1.7},
    {data: jpYield, color: "#0000ff", w: 1.1}
  ]
});
c1.classList.add("chart"); c1.style.top = "0px";
page.appendChild(c1);

const c2 = makeChart({
  yTicks: yTicksBottom, yMin: 1.0, yMax: 5.2, axisAt: 1.0, tickLen: 0.03,
  marginTop: 83, marginBottom: 47, marginLeft: 92, marginRight: 185,
  series: [
    {data: auYield, color: "#92d050", w: 1.6},
    {data: ukYield, color: "#000000", w: 1.6},
    {data: usYield, color: "#ff0000", w: 1.6}
  ]
});
c2.classList.add("chart"); c2.style.top = "860px";
page.appendChild(c2);

function addText(cls, text, left, top) {
  const el = document.createElement("div");
  el.className = cls; el.textContent = text;
  el.style.left = left + "px"; el.style.top = top + "px";
  page.appendChild(el);
  return el;
}
addText("unit", unitLabel, 18, 22);
addText("unit", unitLabel, 18, 873);
addText("title", titleTop, 568, 50);
addText("title", titleBottom, 568, 901);

function addLegend(items, ys, lx1, lx2, tx) {
  items.forEach(([name, color], i) => {
    const ln = document.createElement("div");
    ln.className = "legline";
    ln.style.left = lx1 + "px"; ln.style.width = (lx2 - lx1) + "px";
    ln.style.top = (ys[i] - 1) + "px"; ln.style.background = color;
    page.appendChild(ln);
    addText("legtext", name, tx, ys[i]);
  });
}
addLegend(legendTop, [193, 405, 616], 1183, 1237, 1244);
addLegend(legendBottom, [955, 1086, 1216], 1179, 1230, 1239);
</script></body></html>
